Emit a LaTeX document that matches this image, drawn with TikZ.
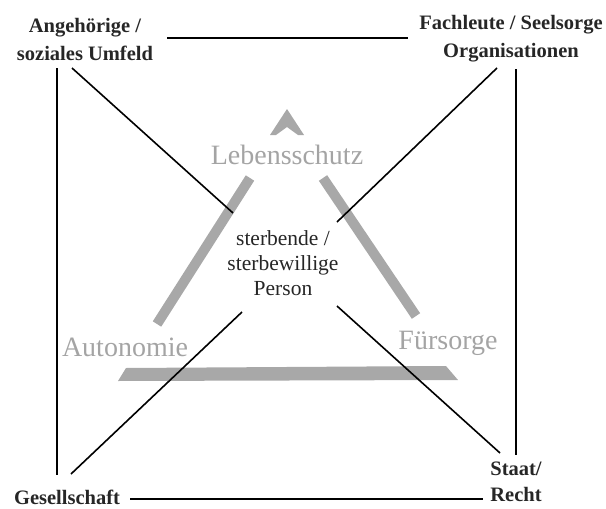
\documentclass[tikz,border=0pt]{standalone}
\usepackage{fontspec}
\setmainfont{Liberation Serif}
\definecolor{barg}{HTML}{A8A8A8}
\definecolor{txtg}{HTML}{A4A4A4}
\tikzset{
  corner/.style={align=center,font=\bfseries\fontsize{20.5}{28}\selectfont,inner sep=0pt,text=black!85},
  centre/.style={align=center,font=\fontsize{21.5}{25}\selectfont,inner sep=0pt,text=black!85},
  pole/.style={font=\fontsize{28}{30}\selectfont,text=txtg,inner sep=0pt},
  conn/.style={draw=black,line width=1.6pt},
  bar/.style={draw=barg,line width=10pt},
}
\begin{document}
\begin{tikzpicture}[x=1pt,y=-1pt]
\useasboundingbox (0,0) rectangle (606,509);
% corner labels
\node[corner] (ang) at (85,39) {Angehörige /\\soziales Umfeld};
\node[corner] (fach) at (511,39) {Fachleute / Seelsorge\\Organisationen};
\node[corner] (ges) at (67,497) {Gesellschaft};
\node[corner,font=\bfseries\fontsize{20.5}{26}\selectfont] (staat) at (516,482) {Staat/\\Recht};
\node[centre] (person) at (283,263) {sterbende /\\sterbewillige\\Person};
% gray triangle
\node[pole] (leb) at (287,155) {Lebensschutz};
\node[pole] (aut) at (125,347) {Autonomie};
\node[pole] (fur) at (448,343) {Fürsorge};
\fill[barg] (287,109) -- (304,135) -- (298,135) -- (287,127) -- (276,135) -- (270,135) -- cycle;
\draw[bar] (250,178) -- (157,324);
\draw[bar] (323,178) -- (416,316);
\fill[barg] (118,381) -- (126,368) -- (446,366) -- (458,380) -- cycle;
% connector end points
\coordinate (t1) at (167,38);
\coordinate (t2) at (408,38);
\coordinate (l1) at (57,68);
\coordinate (l2) at (57,475);
\coordinate (r1) at (516,69);
\coordinate (r2) at (516,455);
\coordinate (b1) at (130,499);
\coordinate (b2) at (483,499);
\coordinate (d1a) at (72,68);
\coordinate (d1b) at (233,213);
\coordinate (d2a) at (497,68);
\coordinate (d2b) at (337,222);
\coordinate (d3a) at (242,312);
\coordinate (d3b) at (71,474);
\coordinate (d4a) at (337,306);
\coordinate (d4b) at (500,453);
\draw[conn] (t1) -- (t2);
\draw[conn] (l1) -- (l2);
\draw[conn] (r1) -- (r2);
\draw[conn] (b1) -- (b2);
\draw[conn] (d1a) -- (d1b);
\draw[conn] (d2a) -- (d2b);
\draw[conn] (d3a) -- (d3b);
\draw[conn] (d4a) -- (d4b);
\end{tikzpicture}
\end{document}
